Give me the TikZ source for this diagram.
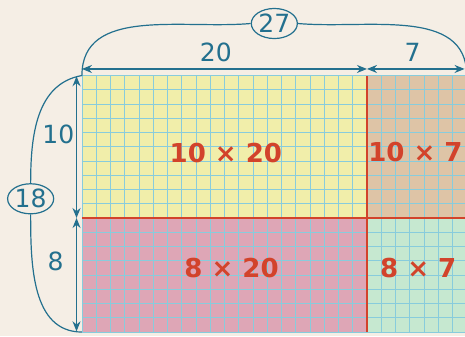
\documentclass[tikz,border=0pt]{standalone}
\usepackage{fontspec}
\setmainfont{DejaVu Sans}
\usetikzlibrary{arrows.meta,shapes.geometric}

\definecolor{paper}{HTML}{F5EEE5}
\definecolor{dimblue}{HTML}{23708E}
\definecolor{cutred}{HTML}{D2432B}
\definecolor{gridblue}{HTML}{88CCDC}
\definecolor{yellowpart}{HTML}{F1EEAA}
\definecolor{tanpart}{HTML}{DEC4A6}
\definecolor{pinkpart}{HTML}{DEA6B6}
\definecolor{mintpart}{HTML}{C6E8D0}

\begin{document}
\begin{tikzpicture}[x=0.5cm, y=0.5cm,
    dimline/.style={dimblue, line width=1.2pt,
        {Stealth[length=10pt,width=8pt]}-{Stealth[length=10pt,width=8pt]}},
    sumline/.style={dimblue, line width=1.2pt},
    dimtext/.style={text=dimblue, font=\fontsize{25}{28}\selectfont},
    sumtext/.style={dimtext, ellipse, draw=dimblue, line width=1.2pt, fill=paper,
        inner sep=0pt, minimum width=46pt, minimum height=30pt},
    parttext/.style={text=cutred, font=\fontsize{26}{29}\selectfont\bfseries}]

    % frame of the picture (the right edge cuts the last column)
    \clip (-5.75,-0.28) rectangle (26.88,23.3);
    \fill[paper] (-5.75,-0.28) rectangle (26.88,23.3);

    % the four parts of the 18 x 27 rectangle
    \fill[yellowpart] (0,8) rectangle (20,18);
    \fill[tanpart] (20,8) rectangle (27,18);
    \fill[pinkpart] (0,0) rectangle (20,8);
    \fill[mintpart] (20,0) rectangle (27,8);

    % squared paper, one square per unit
    \foreach \i in {0,...,27}
        \draw[gridblue, line width=0.7pt] (\i,0) -- (\i,18);
    \foreach \j in {0,...,18}
        \draw[gridblue, line width=0.7pt] (0,\j) -- (27,\j);

    % red cuts
    \draw[cutred, line width=1.6pt] (20,0) -- (20,18);
    \draw[cutred, line width=1.6pt] (0,8) -- (27,8);

    \node[parttext] (P1) at (10.1,12.56) {10 × 20};
    \node[parttext] (P2) at (23.4,12.6) {10 × 7};
    \node[parttext] (P3) at (10.5,4.5) {8 × 20};
    \node[parttext] (P4) at (23.6,4.5) {8 × 7};

    \coordinate (TL) at (0,18);
    \coordinate (BL) at (0,0);
    \coordinate (TR) at (27,18);

    % widths along the top
    \coordinate (H0) at (0,18.46);
    \coordinate (H1) at (20,18.46);
    \coordinate (H2) at (26.85,18.46);
    \draw[dimline] (H0) -- (H1);
    \draw[dimline] (H1) -- (H2);
    \node[dimtext] (L20) at (9.4,19.65) {20};
    \node[dimtext] (L7) at (23.2,19.65) {7};

    % heights on the left
    \coordinate (V0) at (-0.38,0.05);
    \coordinate (V1) at (-0.38,8);
    \coordinate (V2) at (-0.38,17.95);
    \draw[dimline] (V0) -- (V1);
    \draw[dimline] (V1) -- (V2);
    \node[dimtext] (L10) at (-1.65,13.9) {10};
    \node[dimtext] (L8) at (-1.85,4.95) {8};

    % totals
    \node[sumtext] (S27) at (13.5,21.65) {27};
    \draw[sumline] (TL) to[out=90,in=185] (S27.west);
    \draw[sumline] (S27.east) to[out=-5,in=90] (TR);

    \node[sumtext] (S18) at (-3.6,9.35) {18};
    \draw[sumline] (TL) to[out=190,in=90] (S18.north);
    \draw[sumline] (S18.south) to[out=270,in=180] (BL);

\end{tikzpicture}
\end{document}
